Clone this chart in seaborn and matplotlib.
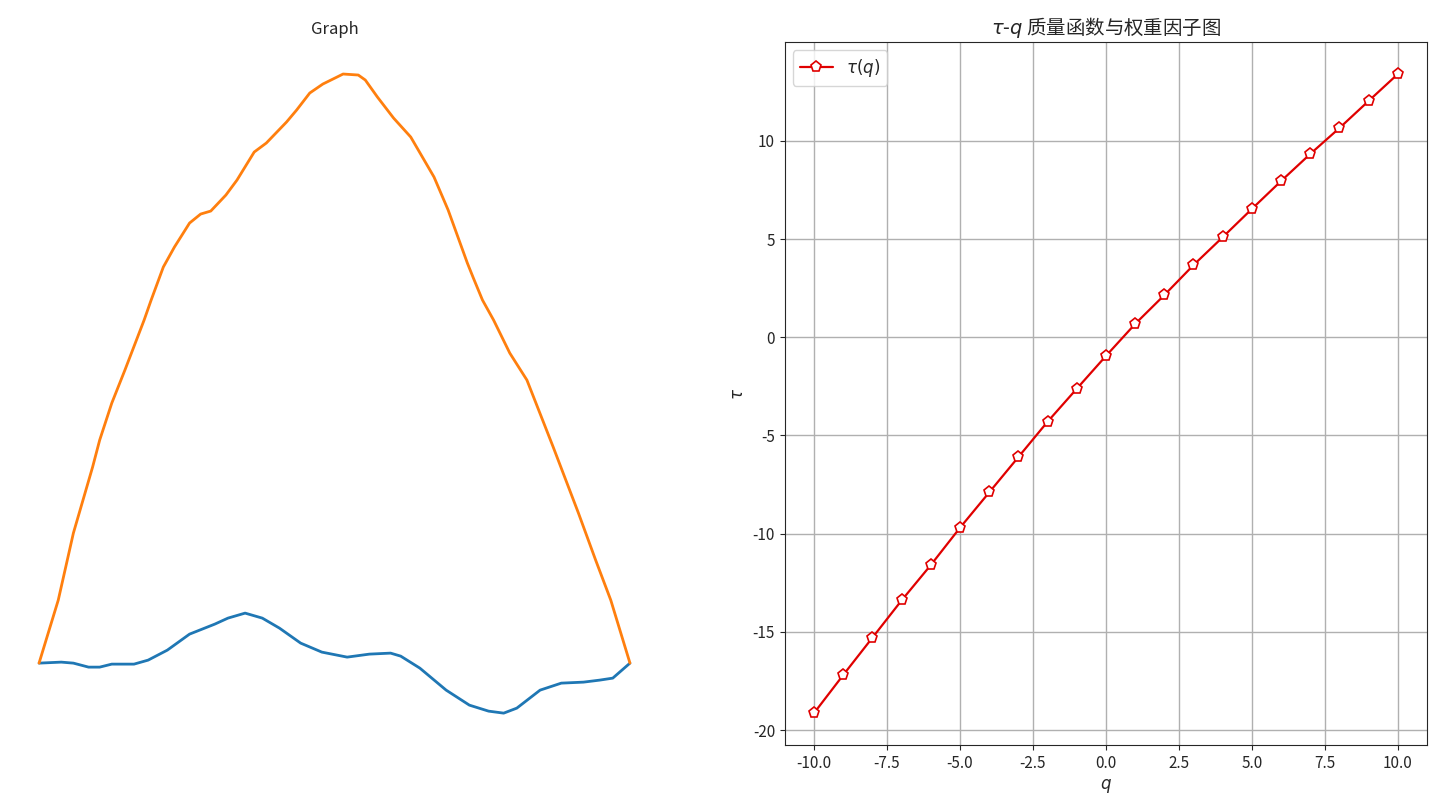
import numpy as np
import pandas as pd
import matplotlib
matplotlib.use("Agg")
import matplotlib.pyplot as plt
import seaborn as sns

sns.set_style("ticks")
plt.rcParams['font.family'] = ['Noto Sans CJK SC', 'DejaVu Sans']
plt.rcParams['axes.unicode_minus'] = False

# ========================
# Left panel: cascade "Graph" curves
# ========================
upper_x = [0.000, 0.0325, 0.0581, 0.0906, 0.1026, 0.1231, 0.1453, 0.1778,
           0.1897, 0.2103, 0.2291, 0.2547, 0.2735, 0.2906, 0.3162, 0.3350,
           0.3641, 0.3846, 0.4188, 0.4359, 0.4581, 0.4803, 0.5043, 0.5145,
           0.5402, 0.5521, 0.5726, 0.5999, 0.6290, 0.6684, 0.6923, 0.7248,
           0.7350, 0.7504, 0.7692, 0.7966, 0.8256, 0.8701, 0.9128, 0.9419,
           0.9675, 1.000]
upper_y = [0.00, 0.63, 1.30, 1.96, 2.23, 2.60, 2.93, 3.43,
           3.63, 3.96, 4.16, 4.40, 4.49, 4.52, 4.68, 4.83,
           5.11, 5.20, 5.41, 5.53, 5.70, 5.79, 5.86, 5.89,
           5.88, 5.83, 5.66, 5.45, 5.26, 4.86, 4.53, 4.00,
           3.85, 3.63, 3.43, 3.10, 2.83, 2.16, 1.50, 1.03,
           0.63, 0.00]

lower_x = [0.000, 0.0376, 0.0581, 0.0838, 0.1026, 0.1231, 0.1607, 0.1846,
           0.2171, 0.2547, 0.2974, 0.3197, 0.3487, 0.3778, 0.4068, 0.4427,
           0.4786, 0.5214, 0.5590, 0.5949, 0.6120, 0.6444, 0.6889, 0.7282,
           0.7607, 0.7863, 0.8085, 0.8479, 0.8838, 0.9214, 0.9487, 0.9709,
           1.000]
lower_y = [0.00, 0.01, 0.00, -0.04, -0.04, -0.01, -0.01, 0.03,
           0.13, 0.29, 0.39, 0.45, 0.50, 0.45, 0.35, 0.20,
           0.11, 0.06, 0.09, 0.10, 0.07, -0.05, -0.27, -0.42,
           -0.48, -0.50, -0.45, -0.27, -0.20, -0.19, -0.17, -0.15,
           0.00]

# ========================
# Right panel: tau(q)
# ========================
q_values = [-10, -9, -8, -7, -6, -5, -4, -3, -2, -1, 0,
            1, 2, 3, 4, 5, 6, 7, 8, 9, 10]
tau_values = [-19.14, -17.20, -15.30, -13.40, -11.60, -9.70, -7.90, -6.10,
              -4.30, -2.62, -0.95, 0.68, 2.15, 3.68, 5.10, 6.54, 7.96,
              9.34, 10.66, 12.04, 13.41]

upper_df = pd.DataFrame({"x": upper_x, "y": upper_y})
lower_df = pd.DataFrame({"x": lower_x, "y": lower_y})
tau_df = pd.DataFrame({"q": q_values, "tau": tau_values})

fig = plt.figure(figsize=(14.4, 8.09), dpi=100)
ax1 = fig.add_axes([0.0066, 0.079, 0.4514, 0.869])
ax2 = fig.add_axes([0.545, 0.079, 0.446, 0.869])

sns.lineplot(data=lower_df, x="x", y="y", ax=ax1, color="#1f77b4",
             linewidth=2, sort=False)
sns.lineplot(data=upper_df, x="x", y="y", ax=ax1, color="#ff7f0e",
             linewidth=2, sort=False)
ax1.set_title("Graph", fontsize=12)
ax1.axis("off")

sns.lineplot(data=tau_df, x="q", y="tau", ax=ax2, color="#e00000",
             linewidth=1.6, marker="p", markersize=8,
             markerfacecolor="white", markeredgecolor="#e00000",
             markeredgewidth=1.2, label=r"$\tau(q)$")
ax2.set_title(r"$\tau$-$q$ 质量函数与权重因子图", fontsize=14)
ax2.set_xlabel(r"$q$", fontsize=12)
ax2.set_ylabel(r"$\tau$", fontsize=12)
ax2.set_xticks(np.arange(-10, 10.1, 2.5))
ax2.set_yticks([-20, -15, -10, -5, 0, 5, 10])
ax2.tick_params(labelsize=11)
ax2.grid(True, color="#b0b0b0", linewidth=1)
for sp in ax2.spines.values():
    sp.set_visible(True)
ax2.legend(loc="upper left", fontsize=12)

plt.savefig("out.png", dpi=100)
plt.close()
